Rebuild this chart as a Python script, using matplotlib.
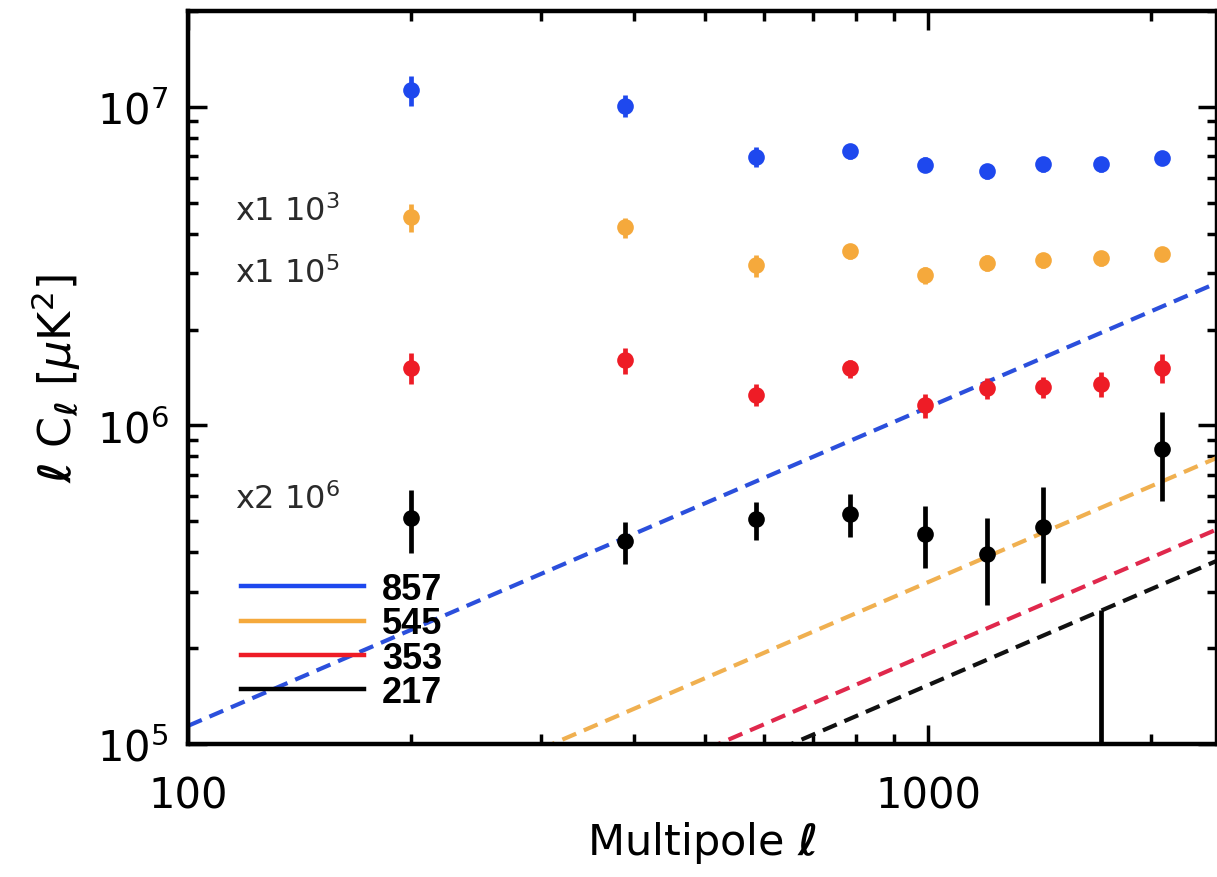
import matplotlib
matplotlib.use("Agg")
import matplotlib.pyplot as plt
import numpy as np
from matplotlib.lines import Line2D
from matplotlib.ticker import NullFormatter, LogLocator

# Multipole bins
ell = [200, 390, 585, 785, 990, 1200, 1430, 1715, 2070]

# Rescaled CIB band powers per frequency channel (GHz)
cl_857 = [1.13e7, 1.01e7, 6.98e6, 7.26e6, 6.59e6, 6.27e6, 6.61e6, 6.61e6, 6.92e6]
err_857 = [1.2e6, 0.8e6, 0.5e6, 0.4e6, 0.35e6, 0.35e6, 0.35e6, 0.35e6, 0.35e6]

cl_545 = [4.51e6, 4.19e6, 3.18e6, 3.52e6, 2.96e6, 3.24e6, 3.31e6, 3.35e6, 3.46e6]
err_545 = [4.5e5, 3.0e5, 2.5e5, 2.0e5, 1.8e5, 1.8e5, 1.8e5, 1.8e5, 1.8e5]

cl_353 = [1.52e6, 1.60e6, 1.25e6, 1.51e6, 1.157e6, 1.31e6, 1.32e6, 1.35e6, 1.52e6]
err_353 = [1.7e5, 1.5e5, 1.0e5, 1.0e5, 1.0e5, 1.0e5, 1.0e5, 1.2e5, 1.6e5]

cl_217 = [5.12e5, 4.33e5, 5.07e5, 5.28e5, 4.57e5, 3.94e5, 4.80e5, 3.0e4, 8.41e5]
err_217 = [1.15e5, 0.65e5, 0.7e5, 0.8e5, 1.0e5, 1.2e5, 1.6e5, 2.33e5, 2.6e5]

# Shot-noise levels: ell * C_ell = amplitude * ell
shot_amp = {"857": 1140.0, "545": 322.0, "353": 192.0, "217": 153.0}

channels = ["857", "545", "353", "217"]
point_colors = {"857": "#1E48EE", "545": "#F5A93C", "353": "#EE1C26", "217": "#000000"}
dash_colors = {"857": "#2B4FDC", "545": "#F0B050", "353": "#E0284C", "217": "#111111"}
series = {"857": (cl_857, err_857), "545": (cl_545, err_545),
          "353": (cl_353, err_353), "217": (cl_217, err_217)}

scale_notes = [("x1 10$^3$", 221), ("x1 10$^5$", 283), ("x2 10$^6$", 509)]

W, H = 1217, 878
fig = plt.figure(figsize=(W / 100, H / 100), dpi=100)
plt.rcParams["mathtext.fontset"] = "dejavusans"

ax_left, ax_right, ax_top, ax_bot = 188, 1217, 12, 745
ax = fig.add_axes([ax_left / W, (H - ax_bot) / H,
                   (ax_right - ax_left) / W, (ax_bot - ax_top) / H])
ax.set_xscale("log")
ax.set_yscale("log")
ax.set_xlim(100, 2458)
ax.set_ylim(1e5, 2e7)

# shot-noise dashed lines
xx = np.array([100.0, 2458.0])
for ch in channels:
    ax.plot(xx, shot_amp[ch] * xx, ls=(0, (3.6, 2.0)), lw=3.0,
            color=dash_colors[ch], zorder=2)

# band powers with error bars
for ch in channels:
    vals, errs = series[ch]
    ax.errorbar(ell, vals, yerr=errs, fmt="o", color=point_colors[ch],
                ms=12, mew=0, elinewidth=3.4, capsize=6, capthick=3.4, zorder=3)

# axes styling
for sp in ax.spines.values():
    sp.set_linewidth(3.2)
ax.tick_params(which="both", direction="in", top=True, right=True,
               width=2.5, labelsize=30, pad=14)
ax.tick_params(which="major", length=14)
ax.tick_params(which="minor", length=7)
ax.set_xticks([100, 1000])
ax.set_xticklabels(["100", "1000"])
ax.xaxis.set_minor_locator(LogLocator(base=10, subs=np.arange(2, 10)))
ax.yaxis.set_minor_locator(LogLocator(base=10, subs=np.arange(2, 10)))
ax.xaxis.set_minor_formatter(NullFormatter())
ax.yaxis.set_minor_formatter(NullFormatter())
ax.tick_params(axis="x", pad=22)

ax.set_xlabel(r"Multipole $\mathbf{\ell}$", fontsize=31, labelpad=2)
ax.set_ylabel(r"$\mathbf{\ell}$ C$_\mathbf{\ell}$ [$\mu$K$^2$]", fontsize=32,
              labelpad=10)

for txt, base in scale_notes:
    fig.text(235 / W, (H - base) / H, txt, fontsize=23, color="#2a2a2a",
             va="baseline", ha="left")

handles = [Line2D([], [], color=point_colors[ch], lw=3.2) for ch in channels]
leg = ax.legend(handles, channels, loc="upper left",
                bbox_to_anchor=(241 / W, (H - 573) / H),
                bbox_transform=fig.transFigure, frameon=False,
                borderpad=0, borderaxespad=0, handlelength=3.4,
                handletextpad=0.5, labelspacing=-0.02,
                prop={"family": ["Liberation Sans Narrow", "Liberation Sans"],
                      "weight": "bold", "size": 26})

fig.savefig("out.png", dpi=100)
